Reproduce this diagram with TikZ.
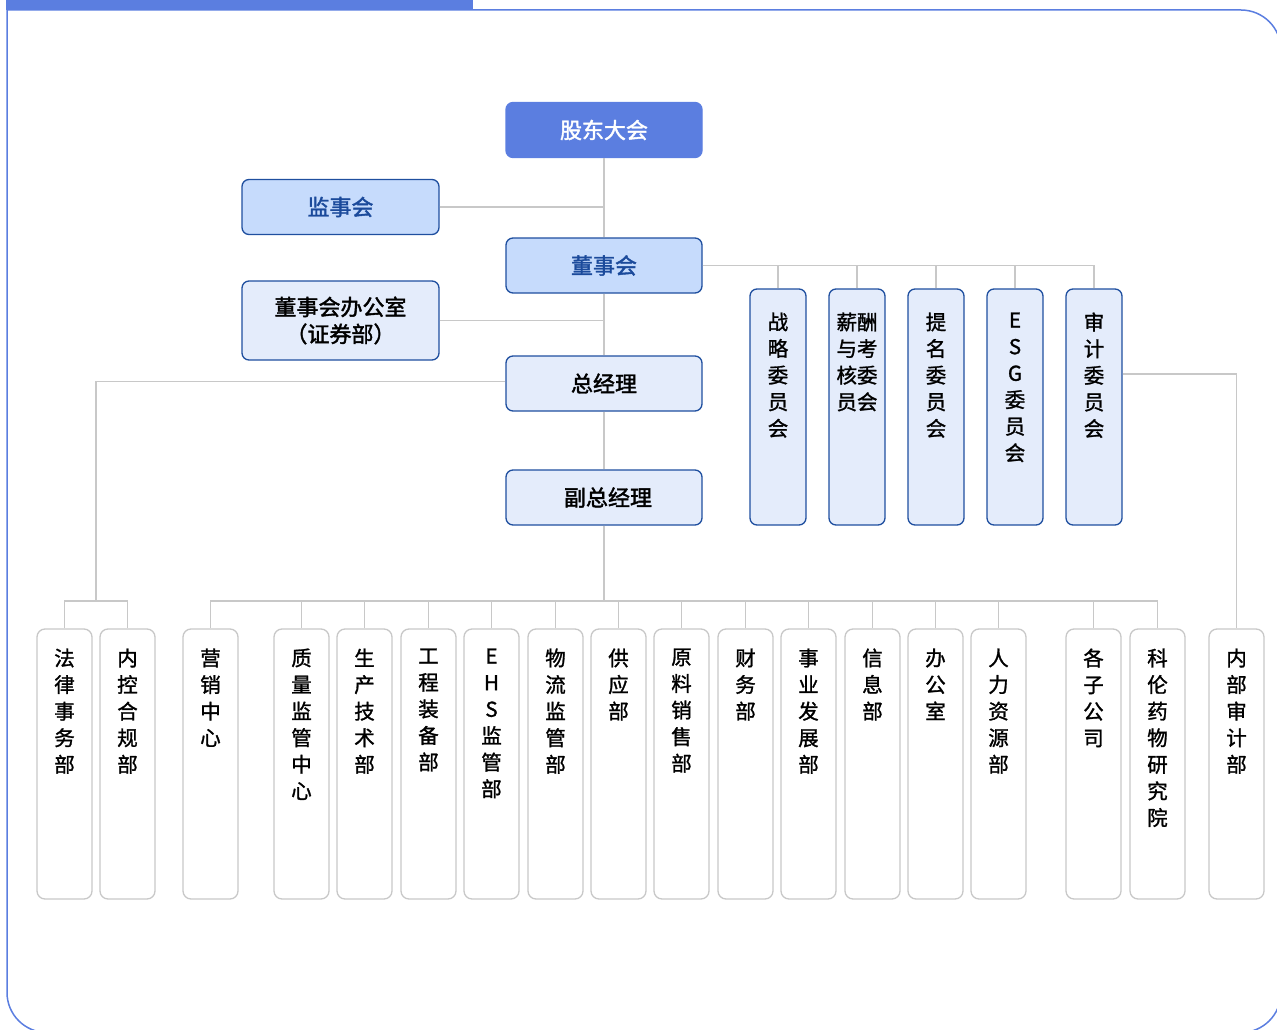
\documentclass[tikz,border=0pt]{standalone}
\usepackage{fontspec}
\setmainfont{Noto Sans CJK SC}
\newfontfamily\medfont{Noto Sans CJK SC}[FakeBold=1.3]
\newfontfamily\topfont{Noto Sans CJK SC}[FakeBold=1.8]
\definecolor{royal}{HTML}{5B7EE0}
\definecolor{framecol}{HTML}{5B7EE0}
\definecolor{lightfill}{HTML}{C6DBFC}
\definecolor{paleFill}{HTML}{E4ECFB}
\definecolor{boxblue}{HTML}{1F4F9F}
\definecolor{txtblue}{HTML}{1B4A9B}
\definecolor{linegray}{HTML}{C8C8C8}
\newcommand\deptbox[3]{%
  \node[dept] (#1) at (#2,764) {};
  \node[vtxt,anchor=north] (#1t) at ([yshift=-20]#1.north) {#3};}
\newcommand\cmtbox[3]{%
  \node[cmt] (#1) at (#2,407) {};
  \node[vtxt,anchor=north] (#1t) at ([yshift=-24]#1.north) {#3};}
\begin{document}
\begin{tikzpicture}[x=1pt,y=-1pt,
  conn/.style={draw=linegray,line width=1.5pt},
  topbox/.style={draw=boxblue,line width=1.3pt,rounded corners=7pt,
    minimum width=196pt,minimum height=55pt,inner sep=0pt,align=center,
    font=\topfont\fontsize{22}{27}\selectfont},
  lbox/.style={topbox,fill=lightfill,text=txtblue},
  pbox/.style={topbox,fill=paleFill,text=black},
  cmt/.style={draw=boxblue,line width=1.3pt,rounded corners=7pt,fill=paleFill,
    minimum width=56pt,minimum height=236pt,inner sep=0pt},
  dept/.style={draw=linegray,line width=1.3pt,rounded corners=8pt,fill=white,
    minimum width=55pt,minimum height=270pt,inner sep=0pt},
  vtxt/.style={inner sep=0pt,align=center,font=\medfont\fontsize{20.5}{26.6}\selectfont}
]
\useasboundingbox (0,0) rectangle (1277,1030);
% frame
\draw[framecol,line width=1.5pt] (7,10) -- (7,600) [rounded corners=40pt] -- (7,1032.5) -- (1281,1032.5) -- (1281,10) -- (7,10);
\fill[royal] (6,0) rectangle (473,10);

% top nodes
\node[topbox,draw=royal,fill=royal,text=white] (gd) at (604,130) {股东大会};
\node[lbox,minimum width=197pt] (js) at (340.5,207) {监事会};
\node[lbox] (ds) at (604,265.5) {董事会};
\node[pbox,minimum width=197pt,minimum height=79pt] (db) at (340.5,320.5) {董事会办公室\\（证券部）};
\node[pbox] (zj) at (604,383.5) {总经理};
\node[pbox] (fz) at (604,497.5) {\hspace*{8pt}副总经理};

% committees
\cmtbox{c1}{778}{战\\略\\委\\员\\会}
\cmtbox{c2}{857}{薪酬\\与考\\核委\\员会}
\cmtbox{c3}{936}{提\\名\\委\\员\\会}
\cmtbox{c4}{1015}{E\\S\\G\\委\\员\\会}
\cmtbox{c5}{1094}{审\\计\\委\\员\\会}

% departments
\deptbox{d1}{64.5}{法\\律\\事\\务\\部}
\deptbox{d2}{127.5}{内\\控\\合\\规\\部}
\deptbox{d3}{210.5}{营\\销\\中\\心}
\deptbox{d4}{301.5}{质\\量\\监\\管\\中\\心}
\deptbox{d5}{364.5}{生\\产\\技\\术\\部}
\deptbox{d6}{428.5}{工\\程\\装\\备\\部}
\deptbox{d7}{491.5}{E\\H\\S\\监\\管\\部}
\deptbox{d8}{555.5}{物\\流\\监\\管\\部}
\deptbox{d9}{618.5}{供\\应\\部}
\deptbox{d10}{681.5}{原\\料\\销\\售\\部}
\deptbox{d11}{745.5}{财\\务\\部}
\deptbox{d12}{808.5}{事\\业\\发\\展\\部}
\deptbox{d13}{872.5}{信\\息\\部}
\deptbox{d14}{935.5}{办\\公\\室}
\deptbox{d15}{998.5}{人\\力\\资\\源\\部}
\deptbox{d16}{1093.5}{各\\子\\公\\司}
\deptbox{d17}{1157.5}{科\\伦\\药\\物\\研\\究\\院}
\deptbox{d18}{1236.5}{内\\部\\审\\计\\部}

% connectors
\coordinate (mb) at (604,601);
\coordinate (lb) at (96,601);
\draw[conn] (gd.south) -- (ds.north);
\draw[conn] (ds.south) -- (zj.north);
\draw[conn] (zj.south) -- (fz.north);
\draw[conn] (fz.south) -- (mb);
\draw[conn] (js.east) -- (js.east -| gd.south);
\draw[conn] (db.east) -- (db.east -| gd.south);
\draw[conn] (ds.east) -| (c5.north);
\foreach \c in {c1,c2,c3,c4} \draw[conn] (\c.north) -- (\c.north |- ds.east);
\draw[conn] ([yshift=33]c5.east) -| (d18.north);
\draw[conn] ([yshift=2]zj.west) -| (lb);
\draw[conn] (d1.north) |- (lb) -| (d2.north);
\draw[conn] (d3.north) |- (mb) -| (d17.north);
\foreach \d in {d4,d5,d6,d7,d8,d9,d10,d11,d12,d13,d14,d15,d16} \draw[conn] (\d.north) -- (\d.north |- mb);
\end{tikzpicture}
\end{document}
